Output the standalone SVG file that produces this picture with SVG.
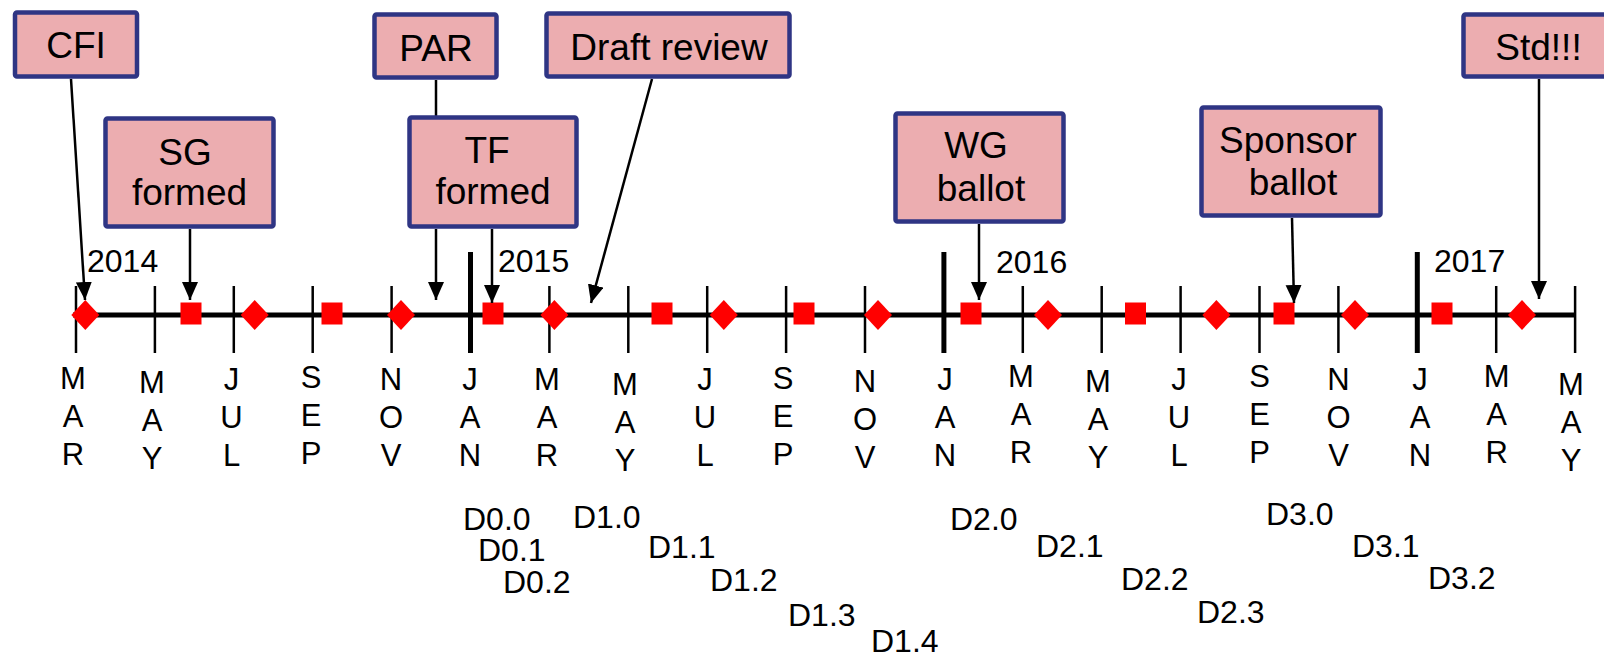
<svg xmlns="http://www.w3.org/2000/svg" width="1604" height="655" viewBox="0 0 1604 655">
<style>
.box{fill:#ECADB0;stroke:#2F3584;stroke-width:4.5}
.bt{font-family:"Liberation Sans",Arial,sans-serif;font-size:37px;fill:#000;text-anchor:middle}
.mo{font-family:"Liberation Sans",Arial,sans-serif;font-size:31px;fill:#000;text-anchor:middle}
.yr{font-family:"Liberation Sans",Arial,sans-serif;font-size:32px;fill:#000}
.dl{font-family:"Liberation Sans",Arial,sans-serif;font-size:32px;fill:#000}
.tk{stroke:#000;stroke-width:2.5}
.tkb{stroke:#000;stroke-width:5}
.cn{stroke:#000;stroke-width:2.5;fill:none}
.ar{marker-end:url(#arr)}
.rd{fill:#FF0000}
</style>
<defs>
<marker id="arr" markerUnits="userSpaceOnUse" markerWidth="19" markerHeight="17" refX="18" refY="8" orient="auto">
<path d="M0,0 L18,8 L0,16 z" fill="#000"/>
</marker>
<filter id="sh" x="-5%" y="-200%" width="110%" height="500%"><feGaussianBlur stdDeviation="1.5"/></filter>
</defs>
<rect width="1604" height="655" fill="#fff"/>

<g id="axis">
<line x1="73" y1="319" x2="1576" y2="319" stroke="#888" stroke-width="5" opacity="0.6" filter="url(#sh)"/>
<line x1="73" y1="315" x2="1576" y2="315" stroke="#000" stroke-width="5"/>
<line class="tk" x1="76" y1="286" x2="76" y2="353"/>
<line class="tk" x1="154.9" y1="286" x2="154.9" y2="353"/>
<line class="tk" x1="233.8" y1="286" x2="233.8" y2="353"/>
<line class="tk" x1="312.7" y1="286" x2="312.7" y2="353"/>
<line class="tk" x1="391.6" y1="286" x2="391.6" y2="353"/>
<line class="tkb" x1="470.5" y1="252" x2="470.5" y2="353"/>
<line class="tk" x1="549.4" y1="286" x2="549.4" y2="353"/>
<line class="tk" x1="628.3" y1="286" x2="628.3" y2="353"/>
<line class="tk" x1="707.2" y1="286" x2="707.2" y2="353"/>
<line class="tk" x1="786.1" y1="286" x2="786.1" y2="353"/>
<line class="tk" x1="865" y1="286" x2="865" y2="353"/>
<line class="tkb" x1="943.9" y1="252" x2="943.9" y2="353"/>
<line class="tk" x1="1022.8" y1="286" x2="1022.8" y2="353"/>
<line class="tk" x1="1101.7" y1="286" x2="1101.7" y2="353"/>
<line class="tk" x1="1180.6" y1="286" x2="1180.6" y2="353"/>
<line class="tk" x1="1259.5" y1="286" x2="1259.5" y2="353"/>
<line class="tk" x1="1338.4" y1="286" x2="1338.4" y2="353"/>
<line class="tkb" x1="1417.3" y1="252" x2="1417.3" y2="353"/>
<line class="tk" x1="1496.2" y1="286" x2="1496.2" y2="353"/>
<line class="tk" x1="1575.1" y1="286" x2="1575.1" y2="353"/>
</g>

<g id="markers">
<path class="rd" d="M85.3,300 L99.3,315 L85.3,330 L71.3,315 z"/>
<path class="rd" d="M254.7,300 L268.7,315 L254.7,330 L240.7,315 z"/>
<path class="rd" d="M401,300 L415,315 L401,330 L387,315 z"/>
<path class="rd" d="M554.4,300 L568.4,315 L554.4,330 L540.4,315 z"/>
<path class="rd" d="M723.8,300 L737.8,315 L723.8,330 L709.8,315 z"/>
<path class="rd" d="M878,300 L892,315 L878,330 L864,315 z"/>
<path class="rd" d="M1048,300 L1062,315 L1048,330 L1034,315 z"/>
<path class="rd" d="M1216.4,300 L1230.4,315 L1216.4,330 L1202.4,315 z"/>
<path class="rd" d="M1355,300 L1369,315 L1355,330 L1341,315 z"/>
<path class="rd" d="M1522,300 L1536,315 L1522,330 L1508,315 z"/>
<rect class="rd" x="180.5" y="302.5" width="21" height="22"/>
<rect class="rd" x="321.5" y="302.5" width="21" height="22"/>
<rect class="rd" x="482.5" y="302.5" width="21" height="22"/>
<rect class="rd" x="651.5" y="302.5" width="21" height="22"/>
<rect class="rd" x="793.5" y="302.5" width="21" height="22"/>
<rect class="rd" x="960.5" y="302.5" width="21" height="22"/>
<rect class="rd" x="1125" y="302.5" width="21" height="22"/>
<rect class="rd" x="1273.5" y="302.5" width="21" height="22"/>
<rect class="rd" x="1431.5" y="302.5" width="21" height="22"/>
</g>

<g id="months">
<text class="mo" x="73" y="389"><tspan x="73">M</tspan><tspan x="73" dy="38">A</tspan><tspan x="73" dy="38">R</tspan></text>
<text class="mo" x="152" y="393"><tspan x="152">M</tspan><tspan x="152" dy="38">A</tspan><tspan x="152" dy="38">Y</tspan></text>
<text class="mo" x="231.5" y="390"><tspan x="231.5">J</tspan><tspan x="231.5" dy="38">U</tspan><tspan x="231.5" dy="38">L</tspan></text>
<text class="mo" x="311" y="388"><tspan x="311">S</tspan><tspan x="311" dy="38">E</tspan><tspan x="311" dy="38">P</tspan></text>
<text class="mo" x="391" y="390"><tspan x="391">N</tspan><tspan x="391" dy="38">O</tspan><tspan x="391" dy="38">V</tspan></text>
<text class="mo" x="470" y="390"><tspan x="470">J</tspan><tspan x="470" dy="38">A</tspan><tspan x="470" dy="38">N</tspan></text>
<text class="mo" x="547" y="390"><tspan x="547">M</tspan><tspan x="547" dy="38">A</tspan><tspan x="547" dy="38">R</tspan></text>
<text class="mo" x="625" y="395"><tspan x="625">M</tspan><tspan x="625" dy="38">A</tspan><tspan x="625" dy="38">Y</tspan></text>
<text class="mo" x="705" y="390"><tspan x="705">J</tspan><tspan x="705" dy="38">U</tspan><tspan x="705" dy="38">L</tspan></text>
<text class="mo" x="783" y="389"><tspan x="783">S</tspan><tspan x="783" dy="38">E</tspan><tspan x="783" dy="38">P</tspan></text>
<text class="mo" x="865" y="392"><tspan x="865">N</tspan><tspan x="865" dy="38">O</tspan><tspan x="865" dy="38">V</tspan></text>
<text class="mo" x="945" y="390"><tspan x="945">J</tspan><tspan x="945" dy="38">A</tspan><tspan x="945" dy="38">N</tspan></text>
<text class="mo" x="1021" y="387"><tspan x="1021">M</tspan><tspan x="1021" dy="38">A</tspan><tspan x="1021" dy="38">R</tspan></text>
<text class="mo" x="1098" y="392"><tspan x="1098">M</tspan><tspan x="1098" dy="38">A</tspan><tspan x="1098" dy="38">Y</tspan></text>
<text class="mo" x="1179" y="390"><tspan x="1179">J</tspan><tspan x="1179" dy="38">U</tspan><tspan x="1179" dy="38">L</tspan></text>
<text class="mo" x="1259.5" y="387"><tspan x="1259.5">S</tspan><tspan x="1259.5" dy="38">E</tspan><tspan x="1259.5" dy="38">P</tspan></text>
<text class="mo" x="1338.5" y="390"><tspan x="1338.5">N</tspan><tspan x="1338.5" dy="38">O</tspan><tspan x="1338.5" dy="38">V</tspan></text>
<text class="mo" x="1420" y="390"><tspan x="1420">J</tspan><tspan x="1420" dy="38">A</tspan><tspan x="1420" dy="38">N</tspan></text>
<text class="mo" x="1496.6" y="387"><tspan x="1496.6">M</tspan><tspan x="1496.6" dy="38">A</tspan><tspan x="1496.6" dy="38">R</tspan></text>
<text class="mo" x="1571" y="395"><tspan x="1571">M</tspan><tspan x="1571" dy="38">A</tspan><tspan x="1571" dy="38">Y</tspan></text>
</g>

<g id="years">
<text class="yr" x="87" y="272">2014</text>
<text class="yr" x="498" y="272">2015</text>
<text class="yr" x="996" y="273">2016</text>
<text class="yr" x="1434" y="272">2017</text>
</g>

<g id="drafts">
<text class="dl" x="463" y="530">D0.0</text>
<text class="dl" x="478" y="561">D0.1</text>
<text class="dl" x="503" y="593">D0.2</text>
<text class="dl" x="573" y="528">D1.0</text>
<text class="dl" x="648" y="558">D1.1</text>
<text class="dl" x="710" y="591">D1.2</text>
<text class="dl" x="788" y="626">D1.3</text>
<text class="dl" x="871" y="652">D1.4</text>
<text class="dl" x="950" y="530">D2.0</text>
<text class="dl" x="1036" y="557">D2.1</text>
<text class="dl" x="1121" y="590">D2.2</text>
<text class="dl" x="1197" y="623">D2.3</text>
<text class="dl" x="1266" y="525">D3.0</text>
<text class="dl" x="1352" y="557">D3.1</text>
<text class="dl" x="1428" y="589">D3.2</text>
</g>

<g id="connectors">
<line class="cn ar" x1="71" y1="79" x2="85" y2="300"/>
<line class="cn ar" x1="190" y1="229" x2="190" y2="300"/>
<line class="cn" x1="436" y1="80" x2="436" y2="116"/>
<line class="cn ar" x1="436" y1="229" x2="436" y2="300"/>
<line class="cn ar" x1="492" y1="229" x2="492" y2="303"/>
<line class="cn ar" x1="652" y1="79" x2="591" y2="303"/>
<line class="cn ar" x1="979" y1="224" x2="979" y2="300"/>
<line class="cn ar" x1="1292" y1="218" x2="1294" y2="303"/>
<line class="cn ar" x1="1539" y1="79" x2="1539" y2="299"/>
</g>

<g id="node-cfi">
<rect class="box" x="15" y="12.5" width="122" height="64" rx="2"/>
<text class="bt" x="76" y="58">CFI</text>
</g>
<g id="node-par">
<rect class="box" x="374.5" y="14.5" width="122" height="63" rx="2"/>
<text class="bt" x="436" y="61">PAR</text>
</g>
<g id="node-draft-review">
<rect class="box" x="546.5" y="13.5" width="243" height="63" rx="2"/>
<text class="bt" x="669" y="60">Draft review</text>
</g>
<g id="node-std">
<rect class="box" x="1463.5" y="14.5" width="152" height="62" rx="2"/>
<text class="bt" x="1538.5" y="60">Std!!!</text>
</g>
<g id="node-sg">
<rect class="box" x="105.5" y="118.5" width="168" height="108" rx="2"/>
<text class="bt" x="185" y="165">SG</text>
<text class="bt" x="189.5" y="205">formed</text>
</g>
<g id="node-tf">
<rect class="box" x="409.5" y="117.5" width="167" height="109" rx="2"/>
<text class="bt" x="487" y="163">TF</text>
<text class="bt" x="493" y="204">formed</text>
</g>
<g id="node-wg">
<rect class="box" x="895.5" y="113.5" width="168" height="108" rx="2"/>
<text class="bt" x="976" y="158">WG</text>
<text class="bt" x="981" y="201">ballot</text>
</g>
<g id="node-sponsor">
<rect class="box" x="1201.5" y="107.5" width="179" height="108" rx="2"/>
<text class="bt" x="1288" y="153">Sponsor</text>
<text class="bt" x="1293" y="195">ballot</text>
</g>
</svg>
